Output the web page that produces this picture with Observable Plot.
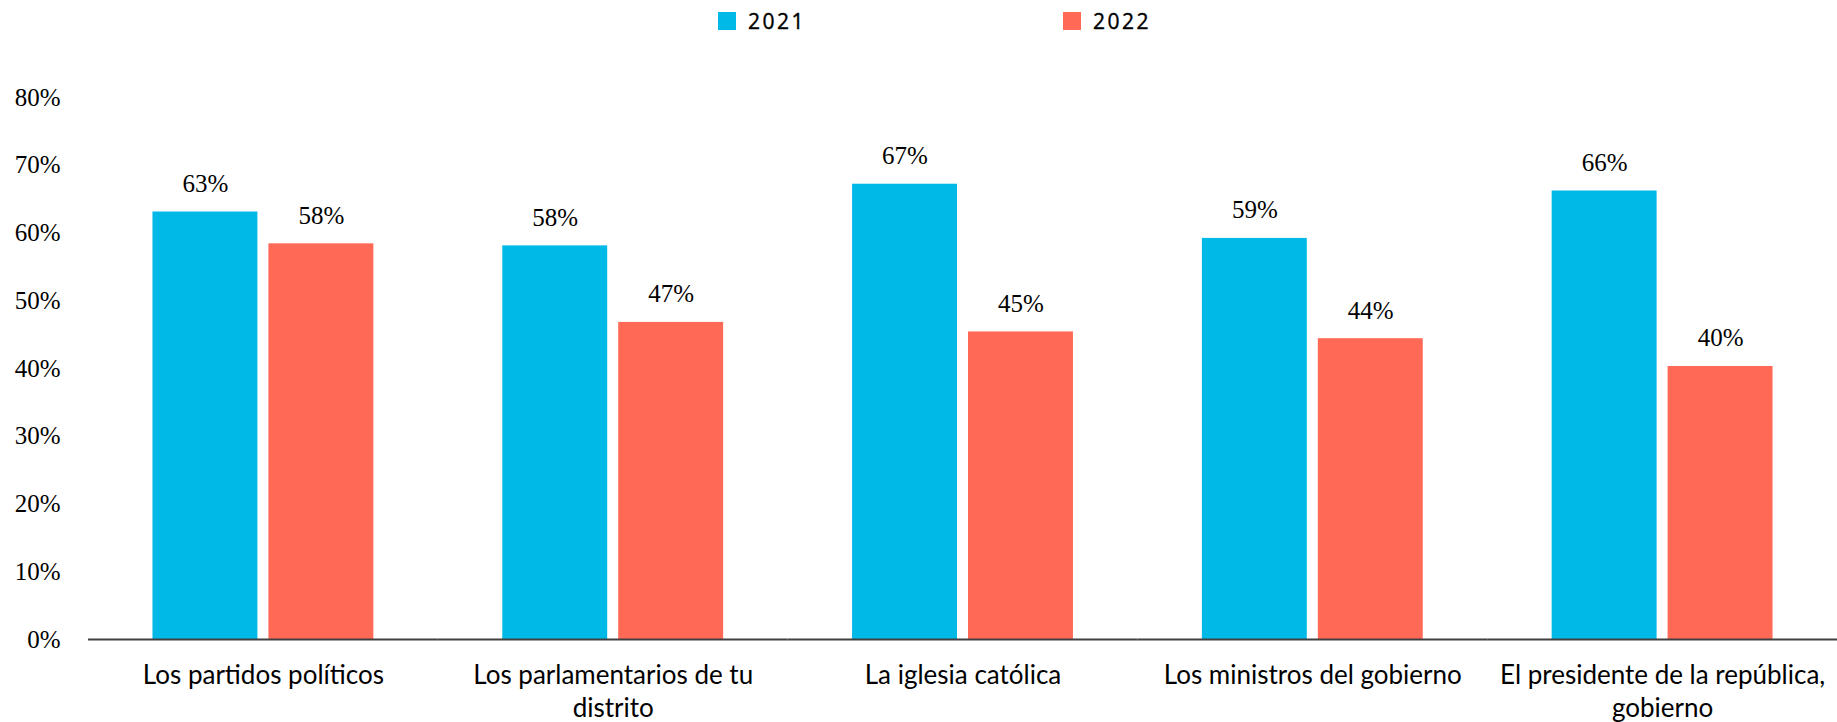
<!DOCTYPE html>
<html>
<head>
<meta charset="utf-8">
<script src="https://cdn.jsdelivr.net/npm/d3@7"></script>
<script src="https://cdn.jsdelivr.net/npm/@observablehq/plot@0.6"></script>
<style>
  html, body { margin: 0; padding: 0; background: #fff; overflow: hidden; }
  #legend { position: relative; height: 40px; width: 1837px; font-family: "Open Sans", sans-serif; font-size: 21px; font-weight: 400; letter-spacing: 2.5px; color: #000; -webkit-text-stroke: 0.4px #000; }
  .item { position: absolute; top: 12px; display: flex; align-items: center; line-height: 18px; }
  .sw { width: 18px; height: 18px; margin-right: 12px; }
</style>
</head>
<body>
<div id="legend"></div>
<div id="chart"></div>
<script>
const categories = [
  "Los partidos políticos",
  "Los parlamentarios de tu distrito",
  "La iglesia católica",
  "Los ministros del gobierno",
  "El presidente de la república, gobierno"
];
const years = ["2021", "2022"];
const values2021 = [63.1, 58.1, 67.2, 59.2, 66.2];
const values2022 = [58.4, 46.8, 45.4, 44.4, 40.3];
const colors = ["#00B9E7", "#FF6956"];
const yTicks = [0, 10, 20, 30, 40, 50, 60, 70, 80];

const data = [];
categories.forEach((c, i) => {
  data.push({cat: c, year: years[0], v: values2021[i] / 100});
  data.push({cat: c, year: years[1], v: values2022[i] / 100});
});

// legend
const legend = document.getElementById("legend");
const legendLeft = [718, 1063];
years.forEach((y, i) => {
  const it = document.createElement("div");
  it.className = "item";
  it.style.left = legendLeft[i] + "px";
  it.innerHTML = `<div class="sw" style="background:${colors[i]}"></div><span>${y}</span>`;
  legend.appendChild(it);
});

// wrap category labels to the band width using real font metrics
const catFont = "26px Lato";
const ctx = document.createElement("canvas").getContext("2d");
ctx.font = catFont;
function wrap(text, maxW) {
  const words = text.split(" ");
  const lines = [];
  let cur = "";
  for (const w of words) {
    const t = cur ? cur + " " + w : w;
    if (cur && ctx.measureText(t).width > maxW) { lines.push(cur); cur = w; }
    else cur = t;
  }
  lines.push(cur);
  return lines.join("\n");
}

const serif = "'Liberation Serif', 'Times New Roman', serif";

const chart = Plot.plot({
  width: 1837,
  height: 682,
  marginTop: 57,
  marginBottom: 83,
  marginLeft: 88,
  marginRight: 0,
  fx: {domain: categories, padding: 0, round: false},
  x: {domain: years, paddingInner: 0.095, paddingOuter: 0.556, round: false, axis: null},
  y: {domain: [0, 0.8], axis: null},
  color: {domain: years, range: colors},
  marks: [
    Plot.axisY({ticks: yTicks.map(d => d / 100), tickFormat: d3.format(".0%"), tickSize: 0, tickPadding: 28,
      fontSize: 25, fontFamily: serif, label: null, fill: "#000"}),
    Plot.axisFx({anchor: "bottom", tickSize: 0, tickPadding: 21, label: null, fontSize: 26,
      fontFamily: "Lato, sans-serif", tickFormat: d => wrap(d, 340), lineHeight: 1.28, fill: "#000"}),
    Plot.barY(data, {fx: "cat", x: "year", y: "v", fill: "year"}),
    Plot.text(data, {fx: "cat", x: "year", y: "v", text: d => d3.format(".0%")(d.v), lineAnchor: "bottom", dy: -20,
      fontSize: 25, fontFamily: serif, fill: "#000"}),
    Plot.ruleY([0], {stroke: "#404040", strokeWidth: 2})
  ]
});
// make sure the serif face is applied to tick and value labels
d3.select(chart).selectAll('g[aria-label="y-axis tick label"] text, g[aria-label="text"] text')
  .style("font-family", serif);
document.getElementById("chart").appendChild(chart);
</script>
</body>
</html>
